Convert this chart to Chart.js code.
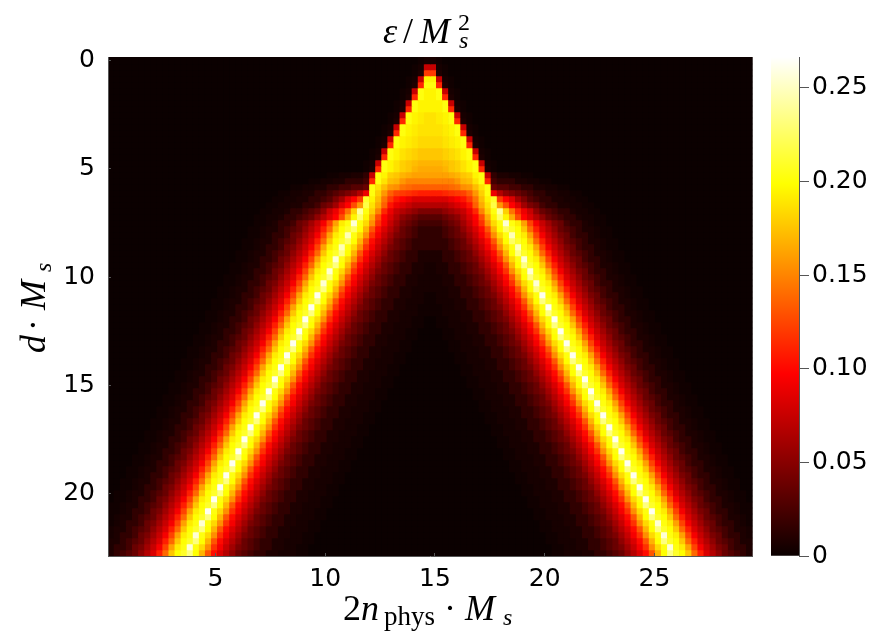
<!DOCTYPE html>
<html><head><meta charset="utf-8"><title>ε/Ms²</title>
<script src="https://cdn.jsdelivr.net/npm/chart.js@4"></script>
<style>
html,body{margin:0;padding:0;background:#fff;width:883px;height:636px;overflow:hidden}
canvas{position:absolute;top:0}
.m{position:absolute;font-family:"Liberation Serif",serif;color:#000;white-space:nowrap;line-height:1;font-size:36px}
.m i{font-style:italic}
.s{font-size:24px}
</style></head><body>
<canvas id="heat" width="883" height="636" style="left:0"></canvas>
<canvas id="bar" width="123" height="636" style="left:760px"></canvas>
<div class="m" style="left:383px;top:13px"><i>ε</i></div>
<div class="m" style="left:403px;top:13px">/</div>
<div class="m" style="left:420px;top:13px"><i>M</i></div>
<div class="m s" style="left:458px;top:10px">2</div>
<div class="m s" style="left:459px;top:28px"><i>s</i></div>
<div class="m" style="left:343px;top:590px">2<i>n</i></div>
<div class="m s" style="left:384px;top:603px;font-size:27px">phys</div>
<div class="m" style="left:444px;top:590px">·</div>
<div class="m" style="left:465px;top:590px"><i>M</i></div>
<div class="m s" style="left:503px;top:605px"><i>s</i></div>
<div class="m" style="left:15px;top:353px;transform-origin:0 0;transform:rotate(-90deg)"><i>d</i></div>
<div class="m" style="left:15px;top:331px;transform-origin:0 0;transform:rotate(-90deg)">·</div>
<div class="m" style="left:15px;top:310px;transform-origin:0 0;transform:rotate(-90deg)"><i>M</i></div>
<div class="m s" style="left:31px;top:272px;transform-origin:0 0;transform:rotate(-90deg)"><i>s</i></div>
<script>
// Tick labels
const xTicks = [5, 10, 15, 20, 25];
const yTicks = [0, 5, 10, 15, 20];
const barTicks = [0, 0.05, 0.10, 0.15, 0.20, 0.25];

// Grid of the map: columns and rows of cells, in axis units
const nCols = 106, halfCols = 53, nRows = 83;
const xFirst = 0.103, xStep = 0.277;
const yFirst = -0.1247, yStep = 0.2771;
const yAxisMin = yFirst - yStep / 6;
const valueMax = 0.2665;

// First filled column of each row (left half, the map is mirror-symmetric about its centre)
const rowStart = [
51,50,50,49,49,48,48,47,47,46,46,45,45,44,44,43,43,42,42,36,
33,30,28,27,26,25,24,24,23,23,22,22,21,21,20,20,19,19,18,18,
17,17,16,16,15,15,14,14,13,13,12,12,11,11,10,10,9,9,8,8,
7,7,6,6,5,5,4,4,3,3,2,2,1,1,0,0,0,0,0,0,0,0,0];

// Cell levels of each row, one symbol per cell:
// . : are the faintest, then 1..9 a..z in equal steps; a capital letter is half a step above its lower-case letter
const rowCells = [
".:",
".:a",
".1g",
".:aq",
".1fr",
".:arq",
".1frq",
".:arqq",
".1frqq",
".:arqPp",
".1frqPp",
".:arqPpp",
".1frqPpp",
".:arqPpOO",
".1frqPpOO",
".:arqpOoNN",
".1frqpOoNN",
".:arqpoNnMM",
".1frqpoNMmm",
"..::112arqoNMmLLL",
"..::112223frpnMlkkkk",
"..::112233445rpnlKjIiii",
"..::1122345679croliGgFfEE",
"..::11223468bdgsqnjgedcbbb",
"..::11223568bdhltpmiecba999",
"..::1223457acfjowrokfca98766",
"..::12234579bdhmquqmhdb976544",
"..:1223568aCGLPryrOKFCa865433",
"..:11234579bEINQsuQMHDb9754322",
"..:1223568aCGLPrxrOKFCa8654322",
"..:11234579bEINQsuQMHDb97543222",
"..:1223568aCGLPrxrOKFCa86543222",
"..:11234579bEINQsvQMHDb975432211",
"..:1223568aCGLPryrOKFCa865432211",
"..:11234579bEINQsvQMHDb975432211:",
"..:1223568aCGLPryrOKFCa865432211:",
"..:11234579bEINQsvQMHDb975432211::",
"..:1223568aCGLPryrOKFCa865432211::",
"..:11234579bEINQsvQMHDb975432211:::",
"..:1223568aCGLPrzrOKFCa865432211::.",
"..:11234579bEINQsvQMHDb975432211:::.",
"..:1223568aCGLPrzrOKFCa865432211::..",
"..:11234579bEINQsvQMHDb975432211:::..",
"..:1223568aCGLPrzrOKFCa865432211::..",
"..:11234579bEINQsvQMHDb975432211:::..",
"..:1223568aCGLPrzrOKFCa865432211::..",
"..:11234579bEINQsvQMHDb975432211:::..",
"..:1223568aCGLPrzrOKFCa865432211::..",
"..:11234579bEINQsvQMHDb975432211:::..",
"..:1223568aCGLPrzrOKFCa865432211::..",
"..:11234579bEINQsvQMHDb975432211:::..",
"..:1223568aCGLPrzrOKFCa865432211::..",
"..:11234579bEINQsvQMHDb975432211:::..",
"..:1223568aCGLPrzrOKFCa865432211::..",
"..:11234579bEINQsvQMHDb975432211:::..",
"..:1223568aCGLPrzrOKFCa865432211::..",
"..:11234579bEINQsvQMHDb975432211:::..",
"..:1223568aCGLPrzrOKFCa865432211::..",
"..:11234579bEINQsvQMHDb975432211:::..",
"..:1223568aCGLPrzrOKFCa865432211::..",
"..:11234579bEINQsvQMHDb975432211:::..",
"..:1223568aCGLPrzrOKFCa865432211::..",
"..:11234579bEINQsvQMHDb975432211:::..",
"..:1223568aCGLPrzrOKFCa865432211::..",
"..:11234579bEINQsvQMHDb975432211:::..",
"..:1223568aCGLPrzrOKFCa865432211::..",
"..:11234579bEINQsvQMHDb975432211:::..",
"..:1223568aCGLPrzrOKFCa865432211::..",
"..:11234579bEINQsvQMHDb975432211:::..",
"..:1223568aCGLPrzrOKFCa865432211::..",
"..:11234579bEINQsvQMHDb975432211:::..",
"..:1223568aCGLPrzrOKFCa865432211::..",
"..:11234579bEINQsvQMHDb975432211:::..",
"..:1223568aCGLPrzrOKFCa865432211::..",
"..:11234579bEINQsvQMHDb975432211:::..",
"..:1223568aCGLPrzrOKFCa865432211::..",
".:11234579bEINQsvQMHDb975432211:::..",
".:1223568aCGLPryrOKFCa865432211::..",
":11234579bEINQsvQMHDb975432211:::..",
":1223568aCGLPryrOKFCa865432211::..",
"11234579bEINQsvQMHDb975432211:::..",
"1223568aCGLPryrOKFCa865432211::..",
"1234579bEINQsvQMHDb975432211:::.."
];

function levelValue(ch){
  if (ch === ".") return 0.0025;
  if (ch === ":") return 0.005;
  const half = ch !== ch.toLowerCase() ? 0.5 : 0;
  return (parseInt(ch, 36) + half) * 0.0075;
}
const clamp01 = t => Math.max(0, Math.min(1, t));
function hot(v){
  const t = v / valueMax;
  const r = Math.round(255 * clamp01(0.0416 + 0.9584 * t / 0.365));
  const g = Math.round(255 * clamp01((t - 0.365) / 0.381));
  const b = Math.round(255 * clamp01((t - 0.746) / 0.254));
  return `rgb(${r},${g},${b})`;
}

const datasets = rowCells.map((cells, r) => {
  const vals = new Array(nCols).fill(0);
  for (let i = 0; i < cells.length; i++) {
    const c = rowStart[r] + i;
    if (c < halfCols) { const v = levelValue(cells[i]); vals[c] = v; vals[nCols - 1 - c] = v; }
  }
  const top = r === 0 ? yAxisMin : yFirst + r * yStep;
  const bottom = yFirst + (r + 1) * yStep;
  return {
    data: vals.map((v, c) => ({ x: xFirst + (c + 0.5) * xStep, y: [top, bottom] })),
    backgroundColor: vals.map(hot),
    borderWidth: 0,
    barPercentage: 1,
    categoryPercentage: 1,
    grouped: false
  };
});

const axisGray = "#555";
const tickFont = { family: "DejaVu Sans", size: 25 };

const underlay = {
  id: "underlay",
  beforeDatasetsDraw(chart){
    const a = chart.chartArea;
    chart.ctx.save();
    chart.ctx.fillStyle = hot(0);
    chart.ctx.fillRect(a.left, a.top, a.right - a.left, a.bottom - a.top);
    chart.ctx.restore();
  }
};

new Chart(document.getElementById("heat"), {
  type: "bar",
  data: { datasets },
  plugins: [underlay],
  options: {
    responsive: false, animation: false, events: [],
    layout: { padding: { left: 0, top: 57, right: 130.5, bottom: 0 } },
    plugins: { legend: { display: false }, title: { display: false }, tooltip: { enabled: false } },
    scales: {
      x: {
        type: "linear", offset: false, min: xFirst, max: xFirst + nCols * xStep,
        afterBuildTicks: s => { s.ticks = xTicks.map(value => ({ value })); },
        afterFit: s => { s.height = 80; },
        ticks: { font: tickFont, color: "#000", padding: 11, autoSkip: false, maxRotation: 0, callback: v => String(v) },
        grid: { offset: false, drawOnChartArea: false, tickLength: -3, color: axisGray, z: 1 },
        border: { color: axisGray, width: 1, z: 1 }
      },
      y: {
        type: "linear", reverse: true, min: yAxisMin, max: yFirst + nRows * yStep,
        afterBuildTicks: s => { s.ticks = yTicks.map(value => ({ value })); },
        afterFit: s => { s.width = 108; },
        ticks: { font: tickFont, color: "#000", padding: 16, autoSkip: false, callback: v => String(v) },
        grid: { drawOnChartArea: false, tickLength: -3, color: axisGray, z: 1 },
        border: { color: axisGray, width: 1, z: 1 }
      }
    }
  }
});

new Chart(document.getElementById("bar"), {
  type: "bar",
  data: {
    labels: ["ε/Ms²"],
    datasets: [{
      data: [[0, valueMax]],
      barPercentage: 1, categoryPercentage: 1, borderWidth: 0,
      backgroundColor: ctx => {
        const a = ctx.chart.chartArea;
        if (!a) return "#000";
        const g = ctx.chart.ctx.createLinearGradient(0, a.bottom, 0, a.top);
        g.addColorStop(0, "rgb(10,0,0)");
        g.addColorStop(0.365, "rgb(255,0,0)");
        g.addColorStop(0.746, "rgb(255,255,0)");
        g.addColorStop(1, "rgb(255,255,255)");
        return g;
      }
    }]
  },
  options: {
    responsive: false, animation: false, events: [],
    layout: { padding: { left: 11, top: 57, right: 0, bottom: 80 } },
    plugins: { legend: { display: false }, tooltip: { enabled: false } },
    scales: {
      x: { display: false },
      y: {
        position: "right", min: 0, max: valueMax,
        afterBuildTicks: s => { s.ticks = barTicks.map(value => ({ value })); },
        afterFit: s => { s.width = 84; },
        ticks: { font: tickFont, color: "#000", padding: 3, autoSkip: false, callback: v => v === 0 ? "0" : v.toFixed(2) },
        grid: { drawOnChartArea: false, tickLength: 10, color: axisGray },
        border: { color: axisGray, width: 1 }
      }
    }
  }
});
</script>
</body></html>
